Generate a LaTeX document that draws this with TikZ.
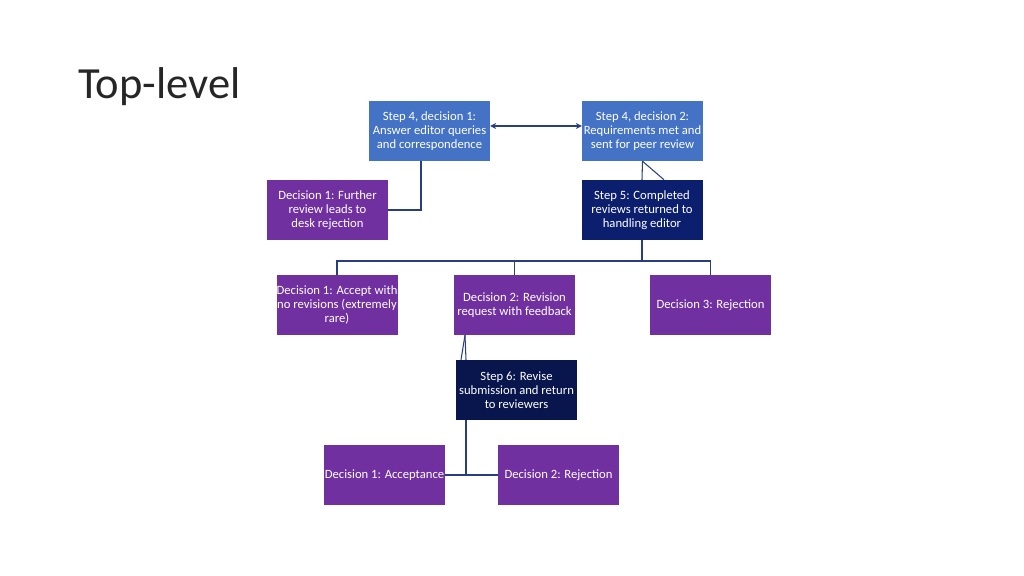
\documentclass[tikz,border=0pt]{standalone}
\usepackage{fontspec}
\setmainfont{Carlito}
\usepackage{tikz}
\usetikzlibrary{arrows.meta}
\definecolor{stepblue}{HTML}{4472C4}
\definecolor{decpurple}{HTML}{7030A0}
\definecolor{stepnavy}{HTML}{0B1F6E}
\definecolor{linknavy}{HTML}{283E7E}

\begin{document}
\begin{tikzpicture}[x=0.3mm, y=-0.3mm, >={Stealth[length=5pt, width=5pt]},
  box/.style={text=white, align=center, minimum width=36.3mm, minimum height=18mm,
    inner sep=0pt, font=\fontsize{10.8}{12}\selectfont},
  s4/.style={box, fill=stepblue},
  dec/.style={box, fill=decpurple},
  stp/.style={box, fill=stepnavy},
  link/.style={draw=linknavy, line width=0.9pt}]
  \useasboundingbox (0,0) rectangle (1024,576);
  \node[anchor=base west, font=\fontsize{38}{40}\selectfont, text=black!85, inner sep=0pt] (title) at (78,99) {Top-level};
  % top row
  \node[s4] (q) at (429.5,131) {Step 4, decision 1:\\ Answer editor queries\\ and correspondence};
  \node[s4] (p) at (642.5,131) {Step 4, decision 2:\\ Requirements met and\\ sent for peer review};
  \node[dec] (dr) at (327.5,210) {Decision 1: Further\\ review leads to\\ desk rejection};
  \node[stp] (s5) at (642,210) {Step 5: Completed\\ reviews returned to\\ handling editor};
  % decisions after review
  \node[dec] (acc) at (337,305) {Decision 1: Accept with\\ no revisions (extremely\\ rare)};
  \node[dec] (rev) at (514.5,305) {Decision 2: Revision\\ request with feedback};
  \node[dec] (rej) at (710.5,305) {Decision 3: Rejection};
  \node[stp, fill=stepnavy!70!black] (s6) at (516.5,390) {Step 6: Revise\\ submission and return\\ to reviewers};
  \node[dec] (fa) at (384.5,475) {Decision 1: Acceptance};
  \node[dec] (fr) at (558.5,475) {Decision 2: Rejection};
  \coordinate (split) at (642,261);
  \coordinate (join) at (466,475);
  % connectors
  \draw[link, <->] ([yshift=1.5mm]q.east) -- ([yshift=1.5mm]p.west);
  \draw[link] ([xshift=-2.55mm]q.south) |- (dr.east);
  \draw[link] (p.south) -- (s5.north);
  \draw[link] (p.south) -- ([xshift=6.6mm]s5.north);
  \draw[link] (s5.south) -- (split);
  \draw[link] (acc.north) |- (split) -| (rej.north);
  \draw[link] (rev.north) -- (rev.north |- split);
  \draw[link] ([xshift=-14.85mm]rev.south) -- ([xshift=-16.65mm]s6.north);
  \draw[link] ([xshift=-14.85mm]rev.south) -- ([xshift=-15.15mm]s6.north);
  \draw[link] (s6.south -| join) -- (join);
  \draw[link] (fa.east) -- (fr.west);
\end{tikzpicture}
\end{document}
